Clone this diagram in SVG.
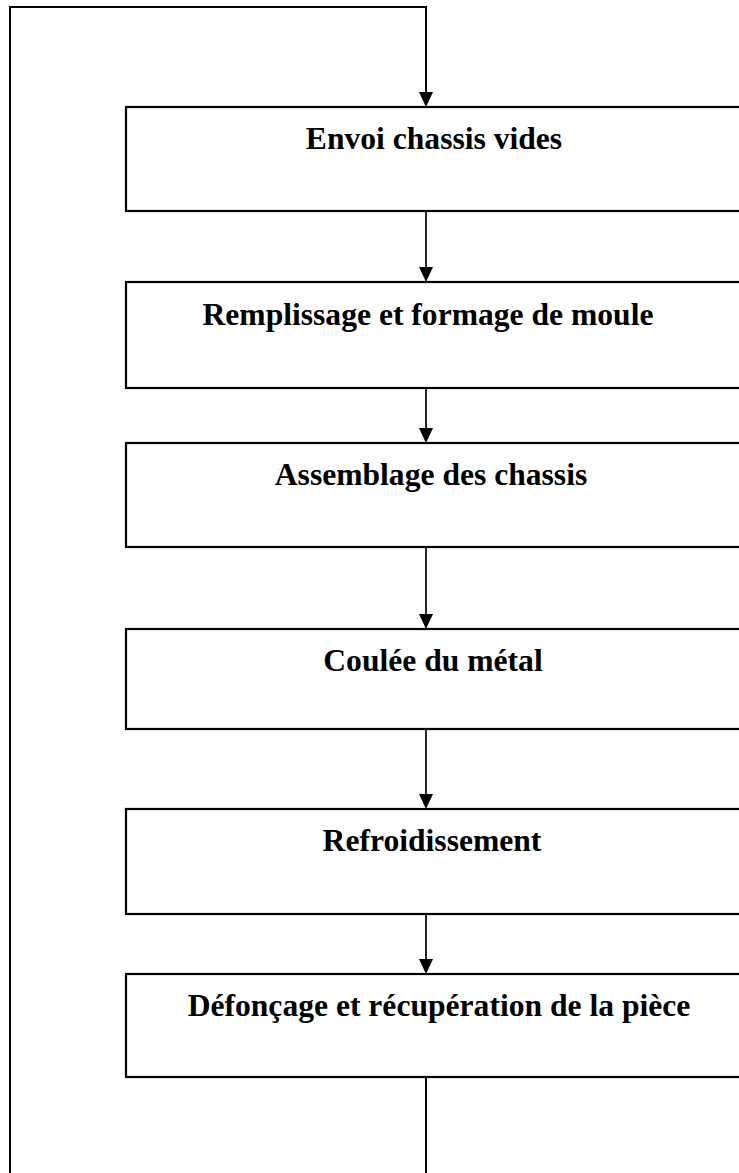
<svg xmlns="http://www.w3.org/2000/svg" width="739" height="1173" viewBox="0 0 739 1173">
<style>
.box{fill:#fff;stroke:#000;stroke-width:2.2}
.lbl{font-family:"Liberation Serif","Times New Roman",serif;font-weight:bold;font-size:31.6px;fill:#000;text-anchor:middle}
.conn{fill:none;stroke:#000;stroke-width:1.7}
.loop{fill:none;stroke:#000;stroke-width:2}
.head{fill:#000}
</style>
<rect width="739" height="1173" fill="#fff"/>
<g id="connectors">
<path class="loop" d="M426,1077 L426,1173"/>
<path class="loop" d="M10,1173 L10,7 L426,7 L426,92"/>
<path class="head" d="M419,92 L433,92 L426,107 Z"/>
<path class="conn" d="M426,211 L426,268"/>
<path class="head" d="M419,267 L433,267 L426,282 Z"/>
<path class="conn" d="M426,388 L426,429"/>
<path class="head" d="M419,428 L433,428 L426,443 Z"/>
<path class="conn" d="M426,547 L426,615"/>
<path class="head" d="M419,614 L433,614 L426,629 Z"/>
<path class="conn" d="M426,729 L426,795"/>
<path class="head" d="M419,794 L433,794 L426,809 Z"/>
<path class="conn" d="M426,914 L426,960"/>
<path class="head" d="M419,959 L433,959 L426,974 Z"/>
</g>
<g id="n1"><rect class="box" x="126" y="107" width="630" height="104"/><text class="lbl" x="434" y="149">Envoi chassis vides</text></g>
<g id="n2"><rect class="box" x="126" y="282" width="630" height="106"/><text class="lbl" x="428" y="325">Remplissage et formage de moule</text></g>
<g id="n3"><rect class="box" x="126" y="443" width="630" height="104"/><text class="lbl" x="431" y="485">Assemblage des chassis</text></g>
<g id="n4"><rect class="box" x="126" y="629" width="630" height="100"/><text class="lbl" x="433" y="671">Coulée du métal</text></g>
<g id="n5"><rect class="box" x="126" y="809" width="630" height="105"/><text class="lbl" x="432" y="851">Refroidissement</text></g>
<g id="n6"><rect class="box" x="126" y="974" width="630" height="103"/><text class="lbl" x="439" y="1016">Défonçage et récupération de la pièce</text></g>
</svg>
